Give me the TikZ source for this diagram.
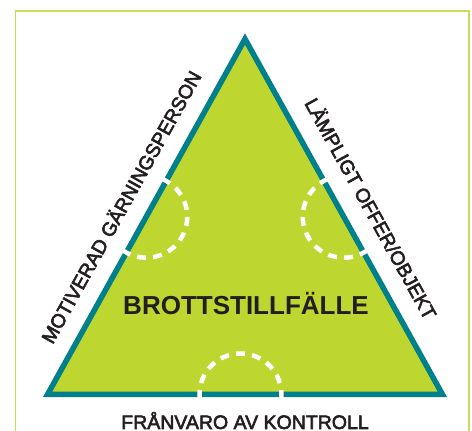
\documentclass[tikz,border=0pt]{standalone}
\usepackage{fontspec}
\setmainfont{Liberation Sans}
\newfontfamily\sidefont{Liberation Sans}[FakeBold=3]
\usetikzlibrary{calc}

\definecolor{crimeteal}{HTML}{00808A}
\definecolor{crimelime}{HTML}{BED630}
\definecolor{framegreen}{HTML}{C8DC5C}
\definecolor{textblack}{HTML}{231F20}

\def \triLeftX{47.5}
\def \triRightX{442.5}
\def \triBaseY{36.5}
\def \triApexX{245}
\def \triApexY{392}
\def \arcRadius{41}
\def \sideAngle{60.94}

\begin{document}
\begin{tikzpicture}[x=1pt, y=1pt,
  border/.style={draw=crimeteal, line width=5.5pt, line join=miter},
  halfcircle/.style={draw=white, line width=4.5pt, dash pattern=on 9pt off 7.1pt, dash phase=12.55pt},
  sidelabel/.style={font=\sidefont\fontsize{19.5}{19.5}\selectfont, text=textblack, inner sep=0pt, outer sep=0pt, text height=14pt, text depth=0pt}]
\useasboundingbox (0,0) rectangle (472,431);
\clip (0,0) rectangle (472,431);

% ---- frame
\draw[framegreen, line width=1.4pt] (15.5,-5) -- (15.5,420) -- (469,420) -- (469,-5);

% ---- corners
\coordinate (apex) at (\triApexX, \triApexY);
\coordinate (left) at (\triLeftX, \triBaseY);
\coordinate (right) at (\triRightX, \triBaseY);

% ---- triangle
\filldraw[border, fill=crimelime] (left) -- (apex) -- (right) -- cycle;

% ---- side midpoints
\coordinate (midL) at ($(left)!0.5!(apex)$);
\coordinate (midR) at ($(right)!0.5!(apex)$);
\coordinate (midB) at (240.5, \triBaseY);

% ---- dashed half circles
\draw[halfcircle] (midL) ++(\sideAngle+11.25:\arcRadius) arc[start angle=\sideAngle+11.25, end angle=\sideAngle-191.25, radius=\arcRadius];
\draw[halfcircle] (midR) ++(168.75-\sideAngle:\arcRadius) arc[start angle=168.75-\sideAngle, end angle=371.25-\sideAngle, radius=\arcRadius];
\draw[halfcircle] (midB) ++(191.25:\arcRadius) arc[start angle=191.25, end angle=-11.25, radius=\arcRadius];

% ---- labels
\path (left) -- (apex) node[sidelabel, pos=0.491, sloped, above=19.5pt] (offender) {MOTIVERAD GÄRNINGSPERSON};
\path (apex) -- (right) node[sidelabel, pos=0.515, sloped, above=20.5pt] (target) {LÄMPLIGT OFFER/OBJEKT};
\path (left) -- (right) node[sidelabel, midway, below=20.5pt] (control) {FRÅNVARO AV KONTROLL};
\node[font=\bfseries\fontsize{26}{26}\selectfont, text=textblack, inner sep=0pt, text height=18.6pt, text depth=0pt] (chance) at (246,126) {BROTTSTILLFÄLLE};
\end{tikzpicture}
\end{document}
